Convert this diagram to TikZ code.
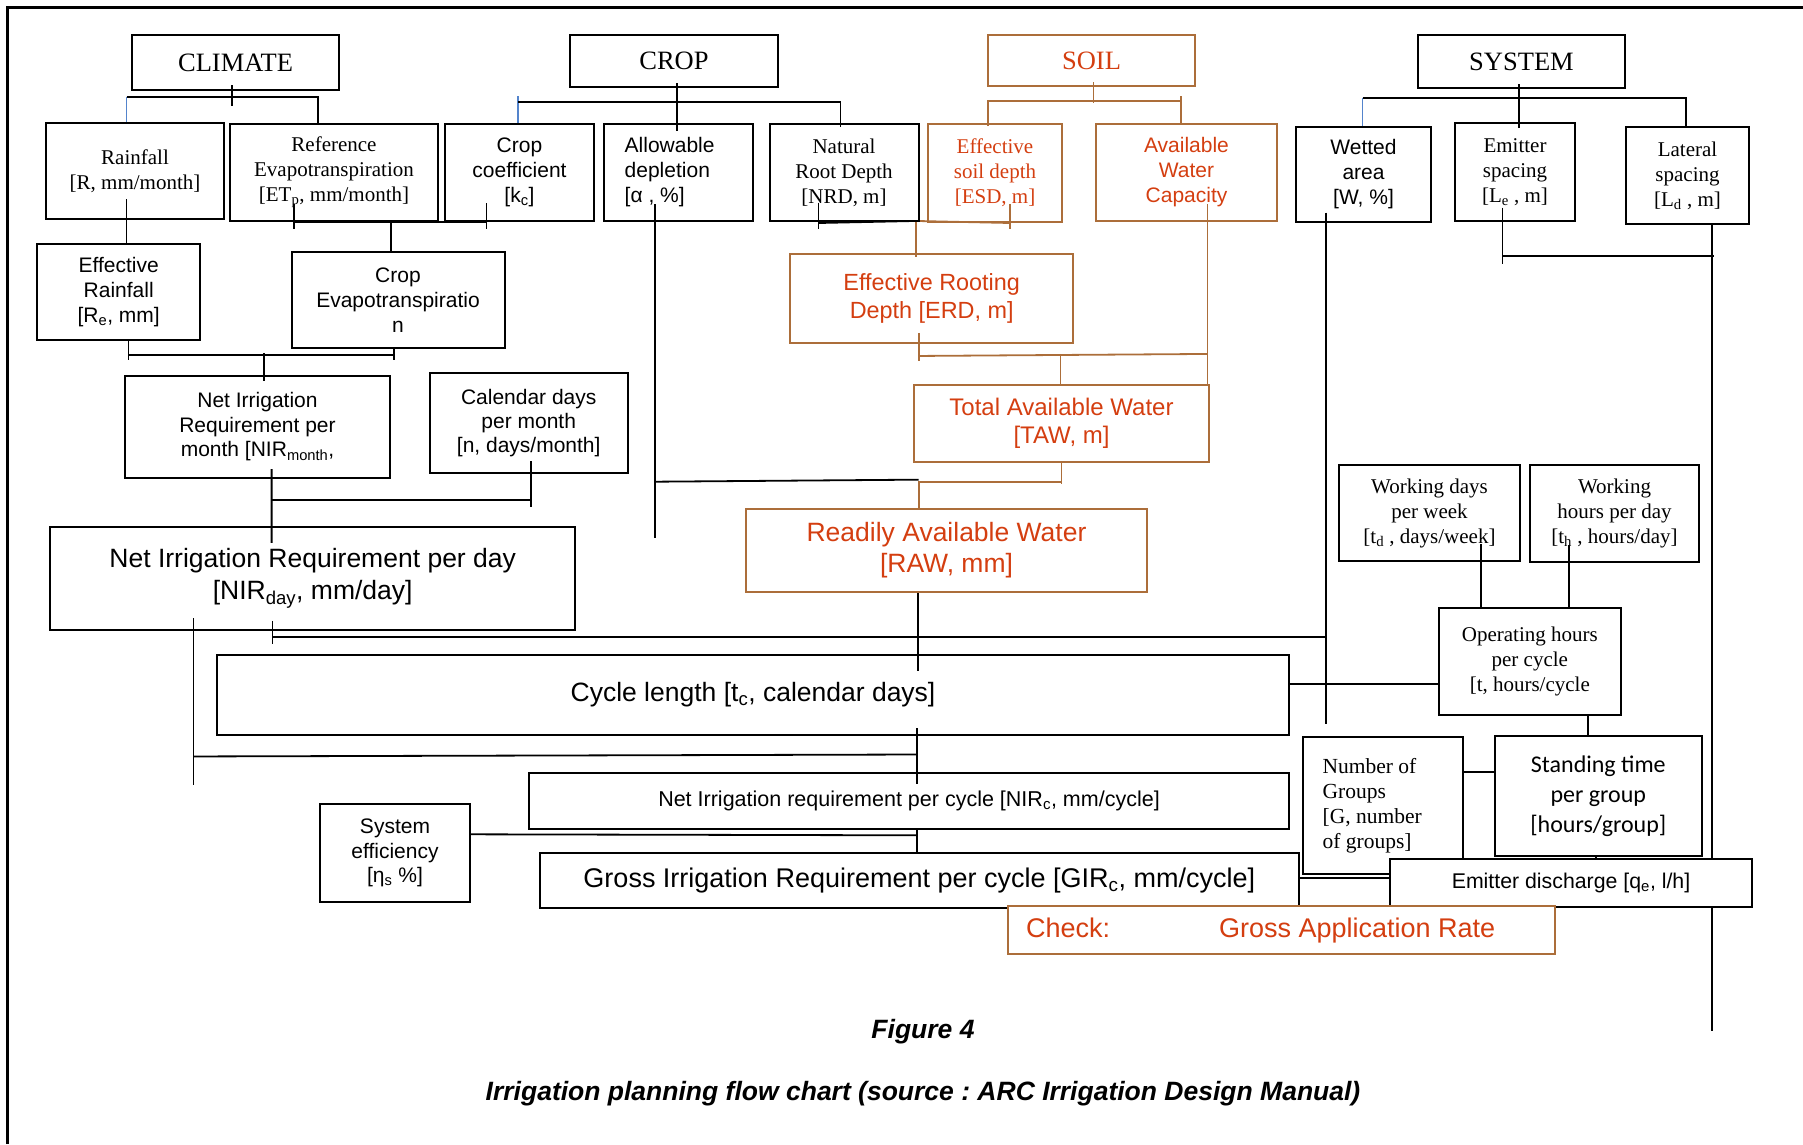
\documentclass[tikz,border=0pt]{standalone}
\usepackage{fontspec}
\setmainfont{Liberation Serif}
\setsansfont{Liberation Sans}
\newfontfamily\calibri{Carlito}
\usetikzlibrary{calc,backgrounds}
\definecolor{soilline}{RGB}{172,110,58}
\definecolor{soiltext}{RGB}{212,62,16}
\definecolor{stubblue}{RGB}{84,132,204}
\frenchspacing

\begin{document}
\begin{tikzpicture}[x=1pt,y=-1pt,
  box/.style={draw,line width=2pt,align=center,inner sep=0pt},
  soilbox/.style={box,draw=soilline,text=soiltext},
  dims/.style 2 args={minimum width=#1,minimum height=#2},
  hdr/.style={font=\rmfamily\fontsize{26.5}{31}\selectfont},
  srf/.style={font=\rmfamily\fontsize{21}{25}\selectfont},
  sns/.style={font=\sffamily\fontsize{21}{25}\selectfont},
  snsbig/.style={font=\sffamily\fontsize{26.5}{31.5}\selectfont},
  link/.style={line width=1.8pt},
  soillink/.style={link,draw=soilline},
  stub/.style={line width=1.2pt,draw=stubblue}]
\useasboundingbox (0,0) rectangle (1803,1144);
\draw[line width=3pt] (7,1144) |- (1803,7); % page frame

% top headings
\node[box,hdr,dims={207}{55}] (clim) at (235.5,62.5) {CLIMATE};
\node[box,hdr,dims={208}{52}] (crop) at (674,61) {CROP};
\node[soilbox,hdr,dims={207}{51}] (soil) at (1091.5,60.5) {SOIL};
\node[box,hdr,dims={207}{53}] (syst) at (1521.5,61.5) {SYSTEM};

% input data
\node[box,srf,dims={178}{96}] (rain) at (135,171) {Rainfall\\{}[R, mm/month]};
\node[box,srf,dims={208}{97}] (refet) at (334,172.5) {Reference\\ Evapotranspiration\\{}[ET\textsubscript{p}, mm/month]};
\node[box,sns,dims={149}{97}] (kc) at (519.5,172.5) {Crop\\ coefficient\\{}[k\textsubscript{c}]};
\node[box,sns,dims={148.5}{97},text width=108,align=flush left] (alpha) at (678.7,172.5) {Allowable\\ depletion\\{}[α , \%]};
\node[box,srf,dims={149}{97}] (nrd) at (844,172.5) {Natural\\ Root Depth\\{}[NRD, m]};
\node[soilbox,srf,dims={134}{98}] (esd) at (995,173) {Effective\\ soil depth\\{}[ESD, m]};
\node[soilbox,sns,dims={181}{97}] (awc) at (1186.5,172.5) {Available\\ Water\\ Capacity};
\node[box,sns,dims={135}{95}] (wet) at (1363.5,174.5) {Wetted\\ area\\{}[W, \%]};
\node[box,srf,dims={120}{98}] (emsp) at (1515,172) {Emitter\\ spacing\\{}[L\textsubscript{e} , m]};
\node[box,srf,dims={123}{97}] (latsp) at (1687.5,175.5) {Lateral\\ spacing\\{}[L\textsubscript{d} , m]};

% derived values
\node[box,sns,dims={163.5}{96}] (effrain) at (118.7,292) {Effective\\ Rainfall\\{}[R\textsubscript{e}, mm]};
\node[box,sns,dims={213}{96}] (etc) at (398,300.3) {Crop\\ Evapotranspiratio\\ n};
\node[soilbox,dims={282.5}{88.7},font=\sffamily\fontsize{23.4}{28}\selectfont] (erd) at (931.7,298.3) {Effective Rooting\\ Depth [ERD, m]};
\node[box,dims={265}{102},font=\sffamily\fontsize{21}{24.5}\selectfont] (nirm) at (257.5,427) {Net Irrigation\\ Requirement per\\ month [NIR\textsubscript{month},};
\node[box,dims={197.7}{100},font=\sffamily\fontsize{21}{24}\selectfont] (cal) at (528.7,422.7) {Calendar days\\ per month\\{}[n, days/month]};
\node[soilbox,dims={295}{76.7},font=\sffamily\fontsize{24}{28}\selectfont] (taw) at (1061.5,423.3) {Total Available Water\\{}[TAW, m]};
\node[box,snsbig,dims={525}{103.3}] (nird) at (312.7,578.3) {Net Irrigation Requirement per day\\{}[NIR\textsubscript{day}, mm/day]};
\node[soilbox,snsbig,dims={401}{82.7}] (raw) at (946.5,550.3) {Readily Available Water\\{}[RAW, mm]};
\node[box,srf,dims={181}{95.7}] (wdays) at (1429.5,513) {Working days\\ per week\\{}[t\textsubscript{d} , days/week]};
\node[box,srf,dims={169}{96.4}] (whours) at (1614.5,513.5) {Working\\ hours per day\\{}[t\textsubscript{h} , hours/day]};
\node[box,srf,dims={182.3}{107.3}] (ophrs) at (1529.8,661.3) {Operating hours\\ per cycle\\{}[t, hours/cycle};
\node[box,snsbig,dims={1072}{80}] (cycle) at (753,695) {Cycle length [t\textsubscript{c}, calendar days]};
\node[box,dims={759.7}{56},font=\sffamily\fontsize{21.5}{25}\selectfont] (nirc) at (909,801.3) {Net Irrigation requirement per cycle [NIR\textsubscript{c}, mm/cycle]};
\node[box,dims={149.3}{97.4},font=\sffamily\fontsize{21}{24.5}\selectfont] (syseff) at (395,853) {System\\ efficiency\\{}[η\textsubscript{s} \%]};
\node[box,dims={759.4}{55},font=\sffamily\fontsize{27}{32}\selectfont] (gir) at (919.3,880.8) {Gross Irrigation Requirement per cycle [GIR\textsubscript{c}, mm/cycle]};
\node[box,dims={160}{137},text width=120,align=flush left,font=\rmfamily\fontsize{21.5}{25}\selectfont] (ngroups) at (1382.6,805.8) {Number of\\ Groups\\{}[G, number\\ of groups]};
\node[box,dims={206.6}{120.3},font=\calibri\fontsize{24}{30}\selectfont] (stand) at (1598.3,795.8) {Standing time\\ per group\\{}[hours/group]};
\node[box,fill=white,dims={362}{47.4},font=\sffamily\fontsize{21.3}{25}\selectfont] (emdis) at (1571,883) {Emitter discharge [q\textsubscript{e}, l/h]};
\node[soilbox,fill=white,dims={546.7}{48.3},font=\sffamily\fontsize{27}{32}\selectfont] (check) at (1281.7,930.2) {Check:\hspace{109pt}Gross Application Rate\hspace{42pt}};

% caption
\node[font=\sffamily\bfseries\itshape\fontsize{26.5}{31}\selectfont] (fig) at (923,1032) {Figure 4};
\node[font=\sffamily\bfseries\itshape\fontsize{26.5}{31}\selectfont] (cap) at (923,1094) {Irrigation planning flow chart (source : ARC Irrigation Design Manual)};

\begin{scope}[on background layer]
% climate
\draw[link] ($(clim.south)+(-3.8,-6)$) -- ++(0,21);
\draw[stub] ($(rain.north)+(-8.5,0)$) -- ++(0,-24.7);
\draw[link] ($(rain.north)+(-8.5,-24.7)$) -| ($(refet.north)+(-15.7,0)$);
% crop
\draw[link] ($(crop.south)+(3,-5)$) -- ++(0,48);
\draw[stub] ($(kc.north)+(-1.5,0)$) -- ++(0,-27);
\draw[link] ($(kc.north)+(-1.5,-21.3)$) -| ($(nrd.north)+(-3.5,4)$);
% soil
\draw[soillink] ($(soil.south)+(2,-5)$) -- ++(0,20.7);
\draw[soillink] ($(esd.north)+(-7,3)$) |- ($(awc.north)+(-5.8,-22)$);
\draw[soillink] ($(awc.north)+(-5.8,-27)$) -- ($(awc.north)+(-5.8,0)$);
% system
\draw[link] ($(syst.south)+(-2.5,-5)$) -- ++(0,44);
\draw[stub] ($(wet.north)+(-1,0)$) -- ++(0,-28);
\draw[link] ($(wet.north)+(-1,-28)$) -| ($(latsp.north)+(-1.5,0)$);
% rainfall and crop water use
\draw[link] ($(rain.south)+(-8.5,-21)$) -- ($(effrain.north)+(7.8,0)$);
\draw[link] ($(refet.south)+(-40.2,-18)$) -- ++(0,25);
\draw[link] ($(kc.south)+(-33.1,-19)$) -- ++(0,26);
\draw[link] ($(refet.south)+(-40.2,0)$) -- ($(kc.south)+(-33.1,0)$);
\draw[link] ($(etc.north)+(-7.3,-31.3)$) -- ($(etc.north)+(-7.3,0)$);
% rooting depth, TAW, RAW
\draw[link] ($(nrd.south)+(-25.5,-19.3)$) -- ++(0,26.6);
\draw[link] ($(nrd.south)+(-25.5,1)$) -- ($(erd.north)+(-15.9,-32)$);
\draw[soillink] ($(erd.north)+(-15.9,-32)$) -- ($(esd.south)+(15,0)$);
\draw[soillink] ($(esd.south)+(15,-19)$) -- ++(0,25);
\draw[soillink] ($(erd.north)+(-15.9,-32)$) -- ($(erd.north)+(-15.9,4)$);
\draw[soillink] ($(awc.south)+(20.9,-18)$) -- ($(taw.north)+(145.9,0)$);
\draw[soillink] ($(erd.south)+(-12.7,-10.7)$) -- ++(0,28);
\draw[soillink] ($(erd.south)+(-12.7,12.3)$) -- ($(taw.north)+(145.9,-30)$);
\draw[soillink] ($(taw.north)+(-1,-30)$) -- ($(taw.north)+(-1,0)$);
\draw[link] ($(alpha.south)+(-24.1,-18)$) -- ++(0,333.7);
\draw[link] ($(alpha.south)+(-24.1,259.7)$) -- ($(raw.north)+(-27.9,-28.3)$);
\draw[soillink] ($(raw.north)+(-27.9,0)$) |- ($(taw.south)+(0,19)$);
\draw[soillink] (taw.south) -- ++(0,21.6);
% monthly and daily need
\draw[link] ($(effrain.south)+(9.8,0)$) -- ++(0,19.3);
\draw[link] ($(etc.south)+(-3.8,0)$) -- ++(0,11);
\draw[link] ($(effrain.south)+(9.8,14.3)$) -- ($(etc.south)+(-3.8,6)$);
\draw[link] ($(nirm.north)+(6.5,-21.7)$) -- ($(nirm.north)+(6.5,5.7)$);
\draw[link] ($(nirm.south)+(14.1,-10)$) -- ($(nird.north)+(-41.1,17.3)$);
\draw[link] ($(nirm.south)+(14.1,21.3)$) -- ($(cal.south)+(1.9,26.6)$);
\draw[link] ($(cal.south)+(1.9,-12.7)$) -- ++(0,46);
% cycle
\draw[link] ($(nird.south)+(-40.3,-10)$) -- ++(0,23.3);
\draw[link] ($(nird.south)+(-40.3,6)$) -- ($(wet.south)+(-37.7,414)$);
\draw[link] ($(wet.south)+(-37.7,-10.3)$) -- ++(0,511);
\draw[link] ($(nird.south)+(-119.2,-12.7)$) -- ++(0,166.7);
\draw[link] ($(nird.south)+(-119.2,125.5)$) -- ($(nirc.north)+(8,-17.8)$);
\draw[link] ($(cycle.south)+(164,-8)$) -- ($(nirc.north)+(8,11.7)$);
\draw[link] ($(raw.south)+(-28.5,0)$) -- ($(cycle.north)+(165,17)$);
\draw[link] ($(cycle.east)+(0,-10.7)$) -- ($(ophrs.west)+(0,23)$);
% spacing and working time
\draw[link] ($(emsp.south)+(-12.6,-14.3)$) -- ++(0,56.6);
\draw[link] ($(emsp.south)+(-12.6,34)$) -- ($(latsp.south)+(26.1,31)$);
\draw[link] ($(latsp.south)+(24.5,0)$) -- ++(0,806);
\draw[link] ($(wdays.south)+(51.1,-18)$) -- ($(ophrs.north)+(-49.2,0)$);
\draw[link] ($(whours.south)+(-45.3,-17.7)$) -- ($(ophrs.north)+(39.4,0)$);
\draw[link] ($(ophrs.south)+(58.2,0)$) -- ($(stand.north)+(-10.3,0)$);
\draw[link] ($(ngroups.east)+(0,-34.1)$) -- ($(stand.west)+(0,-24.1)$);
\draw[link] ($(stand.south)+(-2.3,0)$) -- ($(emdis.north)+(25,0)$);
% gross requirement
\draw[link] ($(syseff.east)+(0,-18.7)$) -- ($(nirc.south)+(8,5)$);
\draw[link] ($(nirc.south)+(8,0)$) -- ($(gir.north)+(-2.3,0)$);
\draw[link] ($(gir.east)+(0,-3)$) -- ($(emdis.west)+(0,-5.2)$);
\end{scope}
\end{tikzpicture}
\end{document}
